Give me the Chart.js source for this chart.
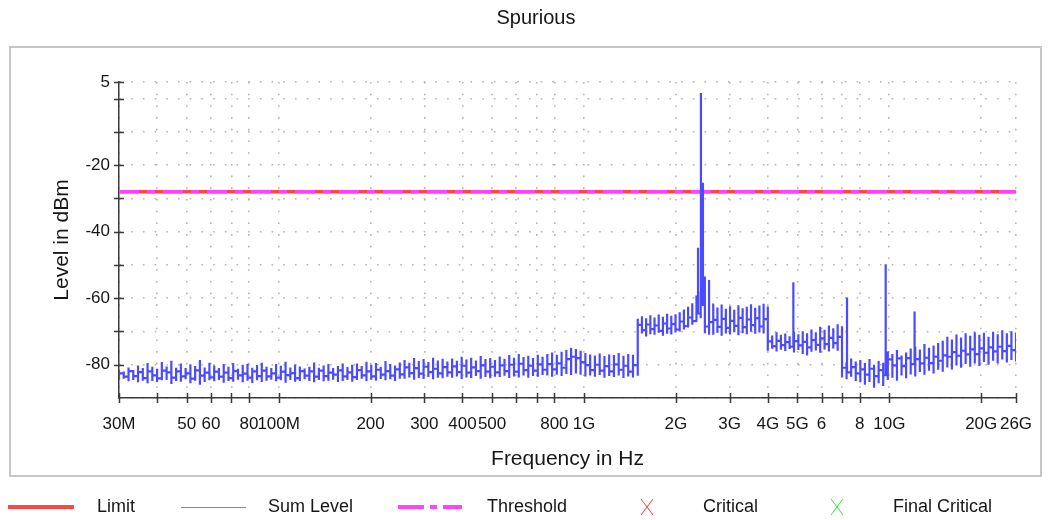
<!DOCTYPE html>
<html>
<head>
<meta charset="utf-8">
<title>Spurious</title>
<script src="https://cdn.jsdelivr.net/npm/chart.js@4.4.1/dist/chart.umd.min.js"></script>
<style>
  html, body { margin: 0; padding: 0; background: #ffffff; }
  #wrap { width: 1049px; height: 520px; position: relative; }
  canvas { display: block; }
</style>
</head>
<body>
<div id="wrap"><canvas id="c" width="1049" height="520"></canvas></div>
<script>
// ---- text ----
const chartTitle = 'Spurious';
const xTitle = 'Frequency in Hz';
const yTitle = 'Level in dBm';
const legendLabels = ['Limit', 'Sum Level', 'Threshold', 'Critical', 'Final Critical'];

// ---- axes ----
const xTickValues = [30e6, 40e6, 50e6, 60e6, 70e6, 80e6, 100e6, 200e6, 300e6, 400e6, 500e6, 600e6, 700e6, 800e6,
  1e9, 2e9, 3e9, 4e9, 5e9, 6e9, 7e9, 8e9, 10e9, 20e9, 26e9];
const xTickLabels = ['30M', '', '50', '60', '', '80', '100M', '200', '300', '400', '500', '', '', '800',
  '1G', '2G', '3G', '4G', '5G', '6', '', '8', '10G', '20G', '26G'];
const yTickValues = [5, 0, -10, -20, -30, -40, -50, -60, -70, -80, -90];
const yTickLabels = ['5', '', '', '-20', '', '-40', '', '-60', '', '-80', ''];

// ---- reference lines (dBm) ----
const limitLevel = -28;
const thresholdLevel = -28;

// ---- sweep segments (Hz) ----
const segStart = [30e6, 1.5e9, 4e9, 7e9];
const segStop = [1.5e9, 4e9, 7e9, 26e9];

// segment 1: 30 MHz - 1.5 GHz (dBm per sweep bin: max, min, running level)
const seg1Max = [
  -81.5, -82.0, -80.8, -81.6, -80.2, -81.0, -79.5, -80.6, -81.2, -79.2,
  -80.5, -78.8, -80.9, -79.6, -81.0, -79.9, -80.4, -78.6, -80.8, -79.4,
  -80.2, -81.0, -79.8, -80.6, -79.5, -81.2, -80.0, -79.7, -80.9, -80.1,
  -79.4, -80.6, -81.0, -79.8, -80.3, -79.1, -80.8, -79.9, -80.5, -81.1,
  -80.6, -79.3, -80.9, -80.2, -79.8, -81.0, -80.4, -79.6, -80.7, -80.0,
  -79.6, -80.4, -79.1, -80.0, -79.5, -80.6, -78.9, -79.8, -80.2, -79.3,
  -78.6, -79.4, -78.0, -78.9, -78.3, -79.2, -77.9, -78.7, -78.2, -79.0,
  -78.1, -78.8, -77.6, -78.4, -77.9, -78.7, -77.4, -78.3, -78.0, -78.6,
  -77.5, -78.2, -77.1, -77.9, -76.8, -77.7, -77.3, -78.0, -77.0, -77.6,
  -76.8, -76.3, -77.0, -76.1, -75.6, -74.9, -75.3, -75.8, -76.5, -76.9,
  -77.2, -76.6, -77.4, -76.9, -77.1, -76.5, -77.3, -76.8, -77.0, -76.7];
const seg1Min = [
  -84.5, -84.2, -85.0, -84.6, -85.3, -84.8, -85.6, -84.9, -85.2, -84.7,
  -84.6, -85.8, -84.9, -85.1, -84.4, -85.6, -84.8, -86.0, -85.2, -84.7,
  -85.0, -84.6, -85.4, -84.9, -85.1, -84.5, -85.3, -84.8, -85.5, -84.7,
  -85.2, -84.8, -84.5, -85.0, -84.7, -85.4, -84.6, -85.1, -84.9, -84.4,
  -84.9, -85.3, -84.6, -85.0, -84.8, -84.5, -85.2, -84.9, -84.6, -85.1,
  -84.6, -84.2, -84.9, -84.5, -84.8, -84.3, -84.7, -84.4, -84.9, -84.2,
  -84.2, -83.8, -84.5, -84.0, -84.3, -83.7, -84.4, -83.9, -84.1, -83.6,
  -83.9, -83.5, -84.3, -83.8, -84.0, -83.4, -84.2, -83.7, -84.1, -83.6,
  -83.7, -83.3, -84.0, -83.5, -83.8, -83.2, -83.9, -83.4, -83.6, -83.1,
  -83.2, -83.6, -83.0, -83.4, -82.8, -83.1, -82.6, -83.0, -83.5, -83.2,
  -83.6, -83.1, -83.9, -83.4, -83.7, -83.2, -84.0, -83.5, -83.8, -83.3];
const seg1Level = [
  -82.6, -83.6, -81.9, -83.4, -82.2, -84.0, -82.0, -83.2, -84.1, -81.8,
  -82.3, -83.9, -82.0, -83.5, -82.6, -84.2, -81.7, -83.3, -82.4, -83.8,
  -82.1, -83.6, -82.4, -84.0, -81.9, -83.2, -82.7, -83.9, -82.0, -83.4,
  -81.8, -83.5, -82.6, -83.9, -82.1, -83.1, -82.5, -84.0, -81.9, -83.3,
  -82.0, -83.6, -81.8, -83.4, -82.4, -83.0, -81.7, -83.5, -82.3, -83.7,
  -81.6, -83.2, -82.0, -83.5, -81.5, -83.0, -81.9, -83.3, -81.4, -82.9,
  -80.8, -82.5, -81.0, -82.7, -80.6, -82.2, -81.2, -82.6, -80.7, -82.3,
  -80.5, -82.2, -80.3, -82.4, -80.8, -81.9, -80.2, -82.1, -80.6, -82.3,
  -80.2, -81.9, -80.0, -82.1, -79.7, -81.6, -80.3, -81.8, -79.9, -81.5,
  -79.8, -81.4, -79.6, -80.9, -78.3, -77.6, -78.0, -79.2, -80.1, -81.6,
  -80.0, -81.8, -80.4, -82.0, -79.9, -81.5, -80.3, -82.1, -80.1, -81.7];

// segment 2: 1.5 GHz - 4 GHz
const seg2Max = [
  -66.2, -65.4, -66.0, -65.1, -65.8, -64.9, -65.6, -64.7, -65.3, -64.8,
  -64.2, -63.4, -62.6, -61.5, -59.2, -58.0, -53.5, -54.5,
  -61.6, -62.8, -61.9, -63.2, -62.4, -63.5, -62.1, -63.0, -62.6, -61.8, -62.9, -62.2, -61.7, -62.5];
const seg2Min = [
  -71.2, -70.6, -71.5, -70.8, -71.0, -70.4, -71.3, -70.7, -70.9, -70.3,
  -70.0, -69.4, -68.8, -68.0, -66.4, -66.0, -70.5, -71.0,
  -71.0, -70.4, -71.3, -70.6, -70.9, -70.2, -71.1, -70.5, -70.8, -70.1, -70.7, -70.3, -70.6, -70.0];
const seg2Level = [
  -68.0, -69.6, -67.9, -69.3, -68.2, -69.8, -67.6, -69.1, -67.8, -69.4,
  -67.0, -68.4, -65.8, -66.9, -64.6, -62.0, -68.5, -67.2,
  -66.5, -68.6, -66.2, -68.9, -66.8, -68.3, -65.9, -68.7, -66.4, -68.1, -66.0, -68.5, -66.3, -67.9];

// segment 3: 4 GHz - 7 GHz
const seg3Max = [
  -70.5, -71.2, -70.2, -71.0, -70.6, -71.4, -70.1, -70.8, -69.9,
  -70.5, -69.4, -70.2, -68.6, -69.5, -68.2, -69.0, -67.8, -68.4];
const seg3Min = [
  -75.8, -75.2, -76.0, -75.5, -75.9, -75.3, -76.3, -75.6, -76.8,
  -77.2, -76.1, -75.7, -76.4, -75.4, -76.0, -75.1, -75.8, -75.3];
const seg3Level = [
  -73.0, -74.4, -72.8, -74.1, -73.2, -74.6, -72.9, -74.2, -73.1,
  -74.8, -72.6, -74.0, -72.1, -73.8, -71.9, -73.5, -71.6, -73.2];

// segment 4: 7 GHz - 26 GHz
const seg4Max = [
  -78.4, -79.2, -78.1, -79.0, -78.6, -79.5, -78.3, -80.0, -78.9, -79.4,
  -76.0, -76.8, -75.6, -77.2, -76.3, -75.1, -74.6, -75.4, -73.8, -74.9,
  -74.2, -73.5, -72.8, -71.6, -72.4, -70.9, -71.8, -70.5, -71.3, -70.2,
  -71.0, -70.4, -71.6, -70.1, -70.8, -69.6, -70.5, -69.9, -70.3];
const seg4Min = [
  -83.8, -84.4, -83.6, -84.9, -85.3, -86.0, -85.2, -86.9, -85.6, -86.4,
  -84.6, -83.9, -84.8, -83.2, -84.1, -82.9, -83.5, -82.2, -83.0, -81.8,
  -82.6, -81.5, -82.1, -80.8, -81.4, -80.2, -80.9, -79.8, -80.6, -79.6,
  -80.4, -79.2, -80.0, -78.8, -79.6, -78.4, -79.3, -78.6, -79.0];
const seg4Level = [
  -80.9, -82.3, -80.7, -82.6, -81.4, -83.0, -81.2, -83.4, -81.6, -83.1,
  -78.4, -80.2, -78.1, -80.4, -78.0, -79.8, -78.3, -79.6, -77.9, -79.5,
  -77.6, -78.8, -77.2, -77.6, -76.2, -77.3, -75.8, -76.9, -75.4, -76.8,
  -75.1, -76.4, -74.8, -76.0, -74.6, -75.9, -74.3, -75.6, -74.7];

// narrow spurs on top of the sum level (Hz, dBm)
const spurFreq = [2.363e9, 2.416e9, 2.453e9, 4.85e9, 7.27e9, 9.73e9, 12.1e9];
const spurLevel = [-44.8, 1.7, -25.3, -55.2, -59.8, -49.8, -64.0];

// ---- build the Sum Level trace ----
const segMax = [seg1Max, seg2Max, seg3Max, seg4Max];
const segMin = [seg1Min, seg2Min, seg3Min, seg4Min];
const segLevel = [seg1Level, seg2Level, seg3Level, seg4Level];

const events = [];
for (let s = 0; s < segStart.length; s++) {
  const n = segLevel[s].length;
  const ratio = segStop[s] / segStart[s];
  for (let i = 0; i < n; i++) {
    // sweep bins sit on a log-spaced frequency grid within the segment
    const f = segStart[s] * Math.pow(ratio, i / (n - 1));
    events.push({ f, order: s * 1000 + i, bin: [segLevel[s][i], segMax[s][i], segMin[s][i], segLevel[s][i]] });
  }
}
spurFreq.forEach((f, k) => events.push({ f, order: -1, spur: spurLevel[k] }));
events.sort((a, b) => (a.f - b.f) || (a.order - b.order));

const sumTrace = [];
let lastY = seg1Level[0];
for (const e of events) {
  if (e.bin) {
    e.bin.forEach(y => sumTrace.push({ x: e.f, y }));
    lastY = e.bin[3];
  } else {
    sumTrace.push({ x: e.f, y: lastY }, { x: e.f, y: e.spur }, { x: e.f, y: lastY });
  }
}

const FONT = "'Liberation Sans', Arial, sans-serif";
const TEXT = '#161616';
const AXIS = '#3a3a3a';

// ---- frame, titles, crossing tick marks and legend ----
const decor = {
  id: 'decor',
  beforeDraw(chart) {
    const ctx = chart.ctx;
    ctx.save();
    ctx.fillStyle = '#ffffff';
    ctx.fillRect(0, 0, chart.width, chart.height);
    ctx.strokeStyle = '#c6c6c6';
    ctx.lineWidth = 2;
    ctx.strokeRect(10, 47, 1031, 429);
    ctx.restore();
  },
  afterDraw(chart) {
    const ctx = chart.ctx;
    const area = chart.chartArea;
    const xs = chart.scales.x, ys = chart.scales.y;
    ctx.save();

    // tick marks crossing the axes
    ctx.strokeStyle = AXIS;
    ctx.lineWidth = 1.5;
    ctx.beginPath();
    xs.ticks.forEach(t => {
      const px = Math.round(xs.getPixelForValue(t.value)) + 0.5;
      ctx.moveTo(px, area.bottom - 5);
      ctx.lineTo(px, area.bottom + 5);
    });
    ys.ticks.forEach(t => {
      if (t.value <= -90) return;
      const py = Math.round(ys.getPixelForValue(t.value)) + 0.5;
      ctx.moveTo(area.left - 5, py);
      ctx.lineTo(area.left + 5, py);
    });
    ctx.stroke();

    // titles
    ctx.fillStyle = TEXT;
    ctx.textBaseline = 'middle';
    ctx.textAlign = 'center';
    ctx.font = '20px ' + FONT;
    ctx.fillText(chartTitle, 536, 18);
    ctx.font = '21px ' + FONT;
    ctx.fillText(xTitle, (area.left + area.right) / 2, 459);
    ctx.save();
    ctx.translate(62, (area.top + area.bottom) / 2);
    ctx.rotate(-Math.PI / 2);
    ctx.fillText(yTitle, 0, 0);
    ctx.restore();

    // legend
    const ly = 507;
    ctx.font = '18px ' + FONT;
    ctx.textAlign = 'left';
    // Limit
    ctx.strokeStyle = '#ff4646';
    ctx.lineWidth = 4;
    ctx.beginPath(); ctx.moveTo(8, ly); ctx.lineTo(74, ly); ctx.stroke();
    ctx.fillText(legendLabels[0], 97, ly);
    // Sum Level
    ctx.strokeStyle = '#7a7aff';
    ctx.lineWidth = 1;
    ctx.beginPath(); ctx.moveTo(181, ly + 0.5); ctx.lineTo(246, ly + 0.5); ctx.stroke();
    ctx.fillText(legendLabels[1], 268, ly);
    // Threshold
    ctx.strokeStyle = '#ff44ff';
    ctx.lineWidth = 4;
    ctx.setLineDash([26, 6, 7, 6]);
    ctx.beginPath(); ctx.moveTo(398, ly); ctx.lineTo(462, ly); ctx.stroke();
    ctx.setLineDash([]);
    ctx.fillText(legendLabels[2], 487, ly);
    // Critical / Final Critical crosses
    const cross = (cx, color) => {
      ctx.strokeStyle = color;
      ctx.lineWidth = 1;
      ctx.beginPath();
      ctx.moveTo(cx - 6, ly - 8); ctx.lineTo(cx + 6, ly + 8);
      ctx.moveTo(cx + 6, ly - 8); ctx.lineTo(cx - 6, ly + 8);
      ctx.stroke();
    };
    cross(647, '#ff3a3a');
    ctx.fillText(legendLabels[3], 703, ly);
    cross(837, '#33e633');
    ctx.fillText(legendLabels[4], 893, ly);

    ctx.restore();
  }
};

const gridStyle = { color: '#b4b4b4', lineWidth: 1.6, drawTicks: false };
const borderStyle = { display: true, color: AXIS, width: 1.5, dash: [1.6, 10.1] };

new Chart(document.getElementById('c'), {
  type: 'line',
  data: {
    datasets: [
      {
        label: legendLabels[1],
        data: sumTrace,
        borderColor: '#4a4aff',
        borderWidth: 2.2,
        borderJoinStyle: 'bevel',
        stepped: 'before',
        pointRadius: 0,
        order: 0
      },
      {
        label: legendLabels[2],
        data: [{ x: xTickValues[0], y: thresholdLevel }, { x: xTickValues[xTickValues.length - 1], y: thresholdLevel }],
        borderColor: '#ff44ff',
        borderWidth: 3.5,
        borderDash: [20, 8, 8, 8],
        pointRadius: 0,
        order: 1
      },
      {
        label: legendLabels[0],
        data: [{ x: xTickValues[0], y: limitLevel }, { x: xTickValues[xTickValues.length - 1], y: limitLevel }],
        borderColor: '#ff4646',
        borderWidth: 3.5,
        pointRadius: 0,
        order: 2
      }
    ]
  },
  options: {
    responsive: false,
    animation: false,
    events: [],
    layout: { padding: { left: 0, right: 33, top: 82, bottom: 0 } },
    plugins: {
      legend: { display: false },
      title: { display: false },
      tooltip: { enabled: false }
    },
    scales: {
      x: {
        type: 'logarithmic',
        min: xTickValues[0],
        max: xTickValues[xTickValues.length - 1],
        afterFit(scale) { scale.height = 122; },
        afterBuildTicks(scale) { scale.ticks = xTickValues.map(v => ({ value: v })); },
        ticks: {
          autoSkip: false,
          maxRotation: 0,
          minRotation: 0,
          padding: 16,
          color: TEXT,
          font: { family: FONT, size: 17 },
          callback: (v, i) => xTickLabels[i]
        },
        grid: gridStyle,
        border: borderStyle
      },
      y: {
        type: 'linear',
        min: -90,
        max: 5,
        afterFit(scale) { scale.width = 119; },
        afterBuildTicks(scale) { scale.ticks = yTickValues.map(v => ({ value: v })); },
        ticks: {
          autoSkip: false,
          padding: 9,
          color: TEXT,
          font: { family: FONT, size: 17 },
          callback: (v, i) => yTickLabels[i]
        },
        grid: gridStyle,
        border: borderStyle
      }
    }
  },
  plugins: [decor]
});
</script>
</body>
</html>
